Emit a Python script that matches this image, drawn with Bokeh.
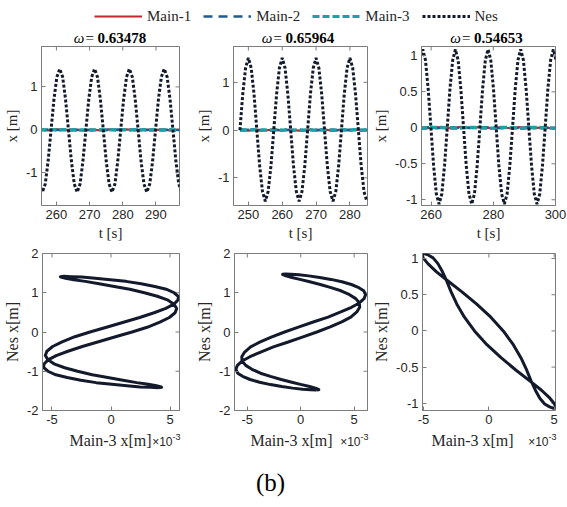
import math
from bokeh.plotting import figure
from bokeh.layouts import column, row
from bokeh.models import (Range1d, FixedTicker, LinearAxis, Label, Legend, LegendItem,
                          NumeralTickFormatter)
from bokeh.embed import file_html
from bokeh.resources import INLINE

# ------------------------------------------------------------------ data
series_names = ["Main-1", "Main-2", "Main-3", "Nes"]
omega_values = ["0.63478", "0.65964", "0.54653"]

# panel 1 (omega = 0.63478): time histories
t1 = [254.88, 255.75, 256.63, 257.50, 258.38, 259.25, 260.13, 261.00, 261.88, 262.75,
      263.63, 264.50, 265.38, 266.25, 267.13, 268.00, 268.88, 269.75, 270.63, 271.50,
      272.38, 273.25, 274.13, 275.00, 275.88, 276.75, 277.63, 278.50, 279.38, 280.25,
      281.13, 282.00, 282.88, 283.75, 284.63, 285.50, 286.38, 287.25, 288.13, 289.00,
      289.88, 290.75, 291.63, 292.50, 293.38, 294.25, 295.13, 296.00, 296.88, 297.75]
nes1 = [-1.26,
        -1.45, -1.26, -0.72, 0.00, 0.71, 1.23, 1.42, 1.23, 0.71, 0.00, -0.72, -1.26,
        -1.45, -1.26, -0.72, 0.00, 0.71, 1.23, 1.42, 1.23, 0.71, 0.00, -0.72, -1.26,
        -1.45, -1.26, -0.72, 0.00, 0.71, 1.23, 1.42, 1.23, 0.71, 0.00, -0.72, -1.26,
        -1.45, -1.26, -0.72, 0.00, 0.71, 1.23, 1.42, 1.23, 0.71, 0.00, -0.72, -1.26,
        -1.45]
main3_1 = [0.0010,
           0.0040, -0.0026, -0.0053, 0.0018, 0.0053, -0.0010, -0.0040, 0.0026, 0.0053, -0.0018, -0.0053, 0.0010,
           0.0040, -0.0026, -0.0053, 0.0018, 0.0053, -0.0010, -0.0040, 0.0026, 0.0053, -0.0018, -0.0053, 0.0010,
           0.0040, -0.0026, -0.0053, 0.0018, 0.0053, -0.0010, -0.0040, 0.0026, 0.0053, -0.0018, -0.0053, 0.0010,
           0.0040, -0.0026, -0.0053, 0.0018, 0.0053, -0.0010, -0.0040, 0.0026, 0.0053, -0.0018, -0.0053, 0.0010,
           0.0040]
t1_m = [254.88, 257.50, 260.13, 262.75, 265.38, 268.00, 270.63, 273.25, 275.88, 278.50,
        281.13, 283.75, 286.38, 289.00, 291.63, 294.25, 296.88, 297.75]
main1_1 = [0.012, -0.010, 0.014, -0.008, 0.011, -0.013, 0.009, -0.011, 0.013, -0.009,
           0.012, -0.012, 0.010, -0.010, 0.013, -0.011, 0.009, 0.004]
main2_1 = [-0.006, 0.008, -0.005, 0.007, -0.008, 0.006, -0.007, 0.005, -0.006, 0.008,
           -0.005, 0.007, -0.008, 0.006, -0.007, 0.005, -0.006, -0.002]

# panel 2 (omega = 0.65964)
t2 = [247.50, 248.33, 249.17, 250.00, 250.83, 251.67, 252.50, 253.33, 254.17, 255.00,
      255.83, 256.67, 257.50, 258.33, 259.17, 260.00, 260.83, 261.67, 262.50, 263.33,
      264.17, 265.00, 265.83, 266.67, 267.50, 268.33, 269.17, 270.00, 270.83, 271.67,
      272.50, 273.33, 274.17, 275.00, 275.83, 276.67, 277.50, 278.33, 279.17, 280.00,
      280.83, 281.67, 282.50, 283.33, 284.17, 285.00]
nes2 = [0.00, 0.75, 1.30, 1.51, 1.30, 0.75, 0.00, -0.75, -1.29, -1.49, -1.29, -0.75,
        0.00, 0.75, 1.30, 1.51, 1.30, 0.75, 0.00, -0.75, -1.29, -1.49, -1.29, -0.75,
        0.00, 0.75, 1.30, 1.51, 1.30, 0.75, 0.00, -0.75, -1.29, -1.49, -1.29, -0.75,
        0.00, 0.75, 1.30, 1.51, 1.30, 0.75, 0.00, -0.75, -1.29, -1.49]
main3_2 = [0.0015, 0.0055, 0.0008, -0.0014, 0.0039, 0.0055, -0.0015, -0.0055, -0.0008, 0.0014, -0.0039, -0.0055,
           0.0015, 0.0055, 0.0008, -0.0014, 0.0039, 0.0055, -0.0015, -0.0055, -0.0008, 0.0014, -0.0039, -0.0055,
           0.0015, 0.0055, 0.0008, -0.0014, 0.0039, 0.0055, -0.0015, -0.0055, -0.0008, 0.0014, -0.0039, -0.0055,
           0.0015, 0.0055, 0.0008, -0.0014, 0.0039, 0.0055, -0.0015, -0.0055, -0.0008, 0.0014]
t2_m = [247.50, 250.00, 252.50, 255.00, 257.50, 260.00, 262.50, 265.00, 267.50, 270.00,
        272.50, 275.00, 277.50, 280.00, 282.50, 285.00]
main1_2 = [0.010, -0.012, 0.011, -0.009, 0.013, -0.010, 0.012, -0.011, 0.009, -0.013,
           0.011, -0.010, 0.012, -0.009, 0.010, -0.011]
main2_2 = [-0.007, 0.006, -0.008, 0.005, -0.006, 0.008, -0.005, 0.007, -0.008, 0.006,
           -0.007, 0.005, -0.006, 0.008, -0.005, 0.007]

# panel 3 (omega = 0.54653)
t3 = [256.43, 257.30, 258.18, 259.05, 259.93, 260.80, 261.68, 262.55, 263.43, 264.30,
      265.18, 266.05, 266.93, 267.80, 268.68, 269.55, 270.43, 271.30, 272.18, 273.05,
      273.93, 274.80, 275.68, 276.55, 277.43, 278.30, 279.18, 280.05, 280.93, 281.80,
      282.68, 283.55, 284.43, 285.30, 286.18, 287.05, 287.93, 288.80, 289.68, 290.55,
      291.43, 292.30, 293.18, 294.05, 294.93, 295.80, 296.68, 297.55, 298.43, 299.30,
      300.18]
nes3 = [0.94,
        1.09, 0.94, 0.54, 0.00, -0.53, -0.92, -1.06, -0.92, -0.53, 0.00, 0.54, 0.94,
        1.09, 0.94, 0.54, 0.00, -0.53, -0.92, -1.06, -0.92, -0.53, 0.00, 0.54, 0.94,
        1.09, 0.94, 0.54, 0.00, -0.53, -0.92, -1.06, -0.92, -0.53, 0.00, 0.54, 0.94,
        1.09, 0.94, 0.54, 0.00, -0.53, -0.92, -1.06, -0.92, -0.53, 0.00, 0.54, 0.94,
        1.09, 0.94]
main3_3 = [-0.0039,
           -0.0050, -0.0047, -0.0021, 0.0011, 0.0029, 0.0039, 0.0050, 0.0047, 0.0021, -0.0011, -0.0029, -0.0039,
           -0.0050, -0.0047, -0.0021, 0.0011, 0.0029, 0.0039, 0.0050, 0.0047, 0.0021, -0.0011, -0.0029, -0.0039,
           -0.0050, -0.0047, -0.0021, 0.0011, 0.0029, 0.0039, 0.0050, 0.0047, 0.0021, -0.0011, -0.0029, -0.0039,
           -0.0050, -0.0047, -0.0021, 0.0011, 0.0029, 0.0039, 0.0050, 0.0047, 0.0021, -0.0011, -0.0029, -0.0039,
           -0.0050, -0.0047]
t3_m = [256.43, 259.05, 261.68, 264.30, 266.93, 269.55, 272.18, 274.80, 277.43, 280.05,
        282.68, 285.30, 287.93, 290.55, 293.18, 295.80, 298.43, 300.18]
main1_3 = [0.008, -0.006, 0.010, 0.004, -0.008, 0.012, -0.005, 0.009, 0.003, -0.007,
           0.011, -0.006, 0.008, 0.004, -0.009, 0.010, -0.004, 0.006]
main2_3 = [-0.004, 0.006, -0.005, 0.003, 0.007, -0.006, 0.004, -0.005, 0.006, 0.002,
           -0.006, 0.005, -0.004, 0.006, 0.003, -0.005, 0.004, -0.003]

# phase portraits: Main-3 (in units of 1e-3 m) against Nes (m), one closed cycle
main3_b1 = [4.00, 3.37, 2.47, 1.34, 0.07, -1.26, -2.55, -3.71, -4.67, -5.34, -5.69, -5.69,
            -5.33, -4.64, -3.65, -2.43, -1.06, 0.38, 1.78, 3.06, 4.14, 4.94, 5.43, 5.56,
            5.33, 4.77, 3.92, 2.83, 1.59, 0.28, -1.01, -2.18, -3.15, -3.85, -4.25, -4.29,
            -4.00, -3.37, -2.47, -1.34, -0.07, 1.26, 2.55, 3.71, 4.67, 5.34, 5.69, 5.69,
            5.33, 4.64, 3.65, 2.43, 1.06, -0.38, -1.78, -3.06, -4.14, -4.94, -5.43, -5.56,
            -5.33, -4.77, -3.92, -2.83, -1.59, -0.28, 1.01, 2.18, 3.15, 3.85, 4.25, 4.29,
            4.00]
nes_b1 = [-1.42, -1.41, -1.40, -1.37, -1.33, -1.29, -1.23, -1.16, -1.09, -1.00, -0.91, -0.82,
          -0.71, -0.60, -0.49, -0.37, -0.25, -0.12, 0.00, 0.12, 0.25, 0.37, 0.49, 0.60,
          0.71, 0.82, 0.91, 1.00, 1.09, 1.16, 1.23, 1.29, 1.33, 1.37, 1.40, 1.41,
          1.42, 1.41, 1.40, 1.37, 1.33, 1.29, 1.23, 1.16, 1.09, 1.00, 0.91, 0.82,
          0.71, 0.60, 0.49, 0.37, 0.25, 0.12, 0.00, -0.12, -0.25, -0.37, -0.49, -0.60,
          -0.71, -0.82, -0.91, -1.00, -1.09, -1.16, -1.23, -1.29, -1.33, -1.37, -1.40, -1.41,
          -1.42]
main3_b2 = [1.44, 0.92, 0.17, -0.75, -1.77, -2.83, -3.85, -4.74, -5.44, -5.90, -6.07, -5.93,
            -5.49, -4.75, -3.75, -2.56, -1.24, 0.15, 1.51, 2.76, 3.84, 4.69, 5.25, 5.52,
            5.49, 5.15, 4.57, 3.77, 2.84, 1.83, 0.84, -0.08, -0.83, -1.38, -1.67, -1.69,
            -1.44, -0.92, -0.17, 0.75, 1.77, 2.83, 3.85, 4.74, 5.44, 5.90, 6.07, 5.93,
            5.49, 4.75, 3.75, 2.56, 1.24, -0.15, -1.51, -2.76, -3.84, -4.69, -5.25, -5.52,
            -5.49, -5.15, -4.57, -3.77, -2.84, -1.83, -0.84, 0.08, 0.83, 1.38, 1.67, 1.69,
            1.44]
nes_b2 = [-1.48, -1.47, -1.46, -1.43, -1.39, -1.34, -1.28, -1.21, -1.13, -1.05, -0.95, -0.85,
          -0.74, -0.63, -0.51, -0.38, -0.26, -0.13, 0.00, 0.13, 0.26, 0.38, 0.51, 0.63,
          0.74, 0.85, 0.95, 1.05, 1.13, 1.21, 1.28, 1.34, 1.39, 1.43, 1.46, 1.47,
          1.48, 1.47, 1.46, 1.43, 1.39, 1.34, 1.28, 1.21, 1.13, 1.05, 0.95, 0.85,
          0.74, 0.63, 0.51, 0.38, 0.26, 0.13, 0.00, -0.13, -0.26, -0.38, -0.51, -0.63,
          -0.74, -0.85, -0.95, -1.05, -1.13, -1.21, -1.28, -1.34, -1.39, -1.43, -1.46, -1.47,
          -1.48]
main3_b3 = [-4.95, -5.11, -5.03, -4.67, -4.03, -3.13, -2.06, -0.93, 0.15, 1.10, 1.87, 2.45, 2.89,
            3.23, 3.56, 3.90, 4.27, 4.65, 4.95, 5.11, 5.03, 4.67, 4.03, 3.13, 2.06, 0.93,
            -0.15, -1.10, -1.87, -2.45, -2.89, -3.23, -3.56, -3.90, -4.27, -4.65, -4.95]
nes_b3 = [1.07, 1.05, 1.01, 0.93, 0.82, 0.69, 0.54, 0.37, 0.19, 0.00, -0.19, -0.37, -0.54,
          -0.69, -0.82, -0.93, -1.01, -1.05, -1.07, -1.05, -1.01, -0.93, -0.82, -0.69, -0.54, -0.37,
          -0.19, 0.00, 0.19, 0.37, 0.54, 0.69, 0.82, 0.93, 1.01, 1.05, 1.07]

# axis ticks
t_ticks = [[260, 270, 280, 290], [250, 260, 270, 280], [260, 280, 300]]
x_top_ticks = [[-1, 0, 1], [-1, 0, 1], [-1, -0.5, 0, 0.5, 1]]
b_x_ticks = [[-5, 0, 5], [-5, 0, 5], [-5, 0, 5]]
b_y_ticks = [[-2, -1, 0, 1, 2], [-2, -1, 0, 1, 2], [-1, -0.5, 0, 0.5, 1]]

# ------------------------------------------------------------------ style
SERIF = "Liberation Serif"
SANS = "Liberation Sans"
FRAME = "#7d7d7d"
TXT = "#262626"
COL_NES = "#131a2c"
COL_M1 = "#c1272d"
COL_M2 = "#1f5b8e"
COL_M3 = "#1e9fa6"

W = 567
widths = [192, 178, 197]
lbs = [39, 35, 46]
rbs = [13, 3, 12]
frame_centers = [109, 297, 485.5]       # page x of each panel's centre (for header texts)
frame_rights = [179, 367, 555]
xlabel_centers = [110, 291, 472]


def make_axis(ticks, label=None, label_size="15px"):
    ax = LinearAxis(ticker=FixedTicker(ticks=ticks), formatter=NumeralTickFormatter(format="0.[0]"))
    ax.axis_line_color = FRAME
    ax.major_tick_line_color = FRAME
    ax.major_tick_in = 4
    ax.major_tick_out = 0
    ax.minor_tick_line_color = None
    ax.major_label_text_font = SANS
    ax.major_label_text_font_size = "13px"
    ax.major_label_text_color = TXT
    ax.major_label_standoff = 4
    if label:
        ax.axis_label = label
        ax.axis_label_text_font = SERIF
        ax.axis_label_text_font_style = "normal"
        ax.axis_label_text_font_size = label_size
        ax.axis_label_text_color = TXT
        ax.axis_label_standoff = 3
    return ax


def make_panel(i, height, tb, bb, xr, yr, xt, yt, xlabel, ylabel, lsize):
    p = figure(width=widths[i], height=height, x_range=Range1d(*xr), y_range=Range1d(*yr),
               output_backend="svg", toolbar_location=None,
               x_axis_location=None, y_axis_location=None,
               min_border_left=lbs[i], min_border_right=rbs[i],
               min_border_top=tb, min_border_bottom=bb)
    p.grid.visible = False
    p.outline_line_color = FRAME
    p.background_fill_color = "white"
    p.border_fill_color = "white"
    p.add_layout(make_axis(xt, xlabel, lsize), "below")
    p.add_layout(make_axis(yt, ylabel, lsize), "left")
    # mirrored inward ticks on the top and right edges (box on)
    p.scatter(xt, [yr[1]] * len(xt), marker="dash", angle=math.pi / 2, size=8,
              line_color=FRAME, line_width=1)
    p.scatter([xr[1]] * len(yt), yt, marker="dash", size=8, line_color=FRAME, line_width=1)
    return p


def strip(height):
    s = figure(width=W, height=height, x_range=Range1d(0, W), y_range=Range1d(0, height),
               output_backend="svg", toolbar_location=None, min_border=0,
               x_axis_location=None, y_axis_location=None)
    s.grid.visible = False
    s.outline_line_color = None
    s.background_fill_color = "white"
    s.border_fill_color = "white"
    return s


# ---------------- header: legend + panel titles
HEAD_H = 46
head = strip(HEAD_H)
lr1 = head.line(t1_m, main1_1, line_color=COL_M1, line_width=2.2, visible=False)
lr2 = head.line(t1_m, main2_1, line_color=COL_M2, line_width=2.5, line_dash="9 6", visible=False)
lr3 = head.line(t1, main3_1, line_color=COL_M3, line_width=3, line_dash="7 3", visible=False)
lr4 = head.line(t1, nes1, line_color=COL_NES, line_width=3, line_dash="3 2", visible=False)
legend = Legend(items=[LegendItem(label=n, renderers=[r]) for n, r in zip(series_names, [lr1, lr2, lr3, lr4])],
                orientation="horizontal", location=(94, 20), glyph_width=48, label_standoff=5,
                spacing=12, padding=0, margin=0, border_line_color=None, background_fill_alpha=0,
                label_text_font=SERIF, label_text_font_size="15px", label_text_color=TXT,
                inactive_fill_alpha=0)
head.add_layout(legend, "center")
for i in range(3):
    head.add_layout(Label(x=frame_centers[i], y=9, text="ω=", text_align="right",
                          text_baseline="middle", x_offset=-15, text_font=SERIF,
                          text_font_style="italic", text_font_size="15px", text_color="black"))
    head.add_layout(Label(x=frame_centers[i], y=9, text=omega_values[i], text_align="left",
                          text_baseline="middle", x_offset=-12, text_font=SERIF,
                          text_font_style="bold", text_font_size="15px", text_color="black"))

# ---------------- top row: time histories
top_data = [
    (t1, nes1, main3_1, t1_m, main1_1, main2_1, (255.5, 297.1), (-1.76, 1.94)),
    (t2, nes2, main3_2, t2_m, main1_2, main2_2, (245.6, 285.2), (-1.58, 1.75)),
    (t3, nes3, main3_3, t3_m, main1_3, main2_3, (256.9, 300.0), (-1.08, 1.13)),
]
top = []
for i, (tt, nes, m3, tm, m1, m2, xr, yr) in enumerate(top_data):
    p = make_panel(i, 199, 0, 40, xr, yr, t_ticks[i], x_top_ticks[i], "t [s]", "x [m]", "15px")
    p.line(tm, m1, line_color=COL_M1, line_width=2.2)
    p.line(tm, m2, line_color=COL_M2, line_width=2.5, line_dash="9 6")
    p.line(tt, m3, line_color=COL_M3, line_width=3.5, line_dash="7 3")
    p.line(tt, nes, line_color=COL_NES, line_width=3, line_dash="3 2", line_cap="butt")
    top.append(p)

# ---------------- bottom row: Nes vs Main-3
bot_data = [
    (main3_b1, nes_b1, (-5.8, 5.8), (-2.0, 2.0)),
    (main3_b2, nes_b2, (-6.2, 6.25), (-2.0, 2.0)),
    (main3_b3, nes_b3, (-5.08, 5.1), (-1.1, 1.07)),
]
bottom = []
for i, (mx, ny, xr, yr) in enumerate(bot_data):
    p = make_panel(i, 187, 8, 22, xr, yr, b_x_ticks[i], b_y_ticks[i], None, "Nes x[m]", "16px")
    p.line(mx, ny, line_color=COL_NES, line_width=3, line_join="round")
    bottom.append(p)

# ---------------- footer: bottom x labels, exponent and caption
FOOT_H = 75
foot = strip(FOOT_H)
for i in range(3):
    foot.add_layout(Label(x=xlabel_centers[i], y=FOOT_H - 8, text="Main-3 x[m]", text_align="center",
                          text_baseline="middle", text_font=SERIF, text_font_size="16px",
                          text_color=TXT))
    foot.add_layout(Label(x=frame_rights[i], y=FOOT_H - 9, text="×10", text_align="right",
                          text_baseline="middle", x_offset=-7, text_font=SANS,
                          text_font_size="12px", text_color=TXT))
    foot.add_layout(Label(x=frame_rights[i], y=FOOT_H - 4, text="-3", text_align="left",
                          text_baseline="middle", x_offset=-7, text_font=SANS,
                          text_font_size="9px", text_color=TXT))
foot.add_layout(Label(x=270, y=25, text="(b)", text_align="center", text_baseline="middle",
                      text_font=SERIF, text_font_size="25px", text_color="black"))

layout = column(head, row(*top), row(*bottom), foot)
open("out.html", "w").write(file_html(layout, INLINE))
